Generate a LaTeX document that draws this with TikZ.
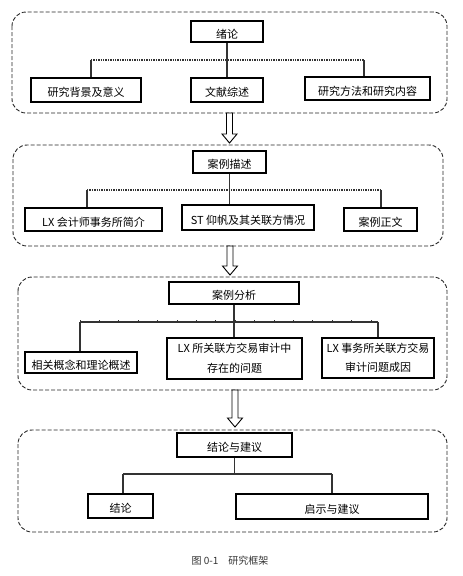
\documentclass[tikz,border=0pt]{standalone}
\usepackage{fontspec}
\setmainfont{Noto Sans CJK SC}
\usepackage{tikz}
\usetikzlibrary{positioning,calc}
\tikzset{
  group/.style={draw=black!85, dash pattern=on 4pt off 2pt, line width=0.9pt, rounded corners=14pt},
  box/.style={draw=black, line width=1.6pt, rectangle, inner sep=0pt, font=\fontsize{11}{14}\selectfont},
  low/.style={text height=13pt, text depth=0pt},
  twoline/.style={align=center, font=\fontsize{11}{19.5}\selectfont},
  link/.style={draw=black!80, line width=1.1pt},
  dotbar/.style={draw=black!80, line width=1.4pt, densely dotted},
  hollow/.style={draw=black, line width=0.9pt, fill=white},
  caption/.style={font=\fontsize{10}{12}\selectfont, text=black!80}
}
\newcommand{\flowdown}[2]{%
  \draw[hollow] ($(#1)+(-3,0)$) -- ($(#2)+(-3,-9)$) -- ($(#2)+(-7.5,-9)$) -- (#2)
    -- ($(#2)+(7.5,-9)$) -- ($(#2)+(3,-9)$) -- ($(#1)+(3,0)$) -- cycle;}
\begin{document}
\begin{tikzpicture}[x=1pt, y=-1pt]
  \useasboundingbox (0,0) rectangle (463,576);

  % introduction
  \draw[group] (12,12) rectangle (447,113);
  \node[box, low, minimum width=72pt, minimum height=21pt] (t1) at (227,31.5) {绪论};
  \node[box, low, minimum width=110pt, minimum height=24pt] (c11) at (86,90) {研究背景及意义};
  \node[box, low, minimum width=72pt, minimum height=24pt] (c12) at (227,90) {文献综述};
  \node[box, low, minimum width=125pt, minimum height=23pt] (c13) at (367.5,88.5) {研究方法和研究内容};
  \coordinate (b11) at (91,60);
  \coordinate (b13) at (364,60);
  \draw[dotbar] (b11) -- (b13);
  \draw[link] (t1) -- (c12);
  \draw[link] (b11) -- (b11 |- c11.north);
  \draw[link] (b13) -- (b13 |- c13.north);

  % case description
  \draw[group] (13,145) rectangle (443,246);
  \node[box, low, minimum width=73pt, minimum height=22pt] (t2) at (229.5,162) {案例描述};
  \node[box, low, minimum width=137pt, minimum height=23pt] (c21) at (93.5,219.5) {LX 会计师事务所简介};
  \node[box, low, minimum width=132pt, minimum height=25pt] (c22) at (248,217.5) {ST 仰帆及其关联方情况};
  \node[box, low, minimum width=73pt, minimum height=23pt] (c23) at (380.5,219.5) {案例正文};
  \coordinate (b21) at (87,190);
  \coordinate (b23) at (381,190);
  \draw[dotbar] (b21) -- (b23);
  \draw[link] (t2.south) -- (t2.south |- c22.north);
  \draw[link] (b21) -- (b21 |- c21.north);
  \draw[link] (b23) -- (b23 |- c23.north);

  % case analysis
  \draw[group] (18,277) rectangle (447,390);
  \node[box, low, minimum width=130pt, minimum height=22pt] (t3) at (234,293) {案例分析};
  \node[box, low, minimum width=112pt, minimum height=21pt] (c31) at (81,362.5) {相关概念和理论概述};
  \node[box, twoline, minimum width=135pt, minimum height=41pt] (c32) at (234.5,358.5) {LX 所关联方交易审计中\\存在的问题};
  \node[box, twoline, minimum width=112pt, minimum height=40pt] (c33) at (378,358) {LX 事务所关联方交易\\审计问题成因};
  \coordinate (b31) at (80,322);
  \coordinate (b33) at (378,322);
  \draw[link] (b31) -- (b33);
  \foreach \k in {0,...,15}
    \draw[link, line width=0.8pt] ($(b31)+(19.4*\k,0)$) -- ++(0,-2.5);
  \draw[link] (t3.south) -- (t3.south |- c32.north);
  \draw[link] (b31) -- (b31 |- c31.north);
  \draw[link] (b33) -- (b33 |- c33.north);

  % conclusion
  \draw[group] (18,430) rectangle (447,532);
  \node[box, low, minimum width=115pt, minimum height=24pt] (t4) at (234.5,445) {结论与建议};
  \node[box, low, minimum width=65pt, minimum height=24pt] (c41) at (120.5,506) {结论};
  \node[box, low, minimum width=192pt, minimum height=25pt] (c42) at (332,506.5) {启示与建议};
  \coordinate (b41) at (123,474);
  \coordinate (b42) at (332,474);
  \draw[link, line width=1.4pt] (b41) -- (b42);
  \draw[link] (t4.south) -- (t4.south |- b41);
  \draw[link] (b41) -- (b41 |- c41.north);
  \draw[link] (b42) -- (b42 |- c42.north);

  % hollow arrows
  \coordinate (a1s) at (229.5,113);  \coordinate (a1e) at (229.5,143);
  \coordinate (a2s) at (230,246);    \coordinate (a2e) at (230,275);
  \coordinate (a3s) at (235,390);    \coordinate (a3e) at (235,427);
  \flowdown{a1s}{a1e}
  \flowdown{a2s}{a2e}
  \flowdown{a3s}{a3e}

  \node[caption] (cap) at (230,561) {图 0-1\quad 研究框架};
\end{tikzpicture}
\end{document}
